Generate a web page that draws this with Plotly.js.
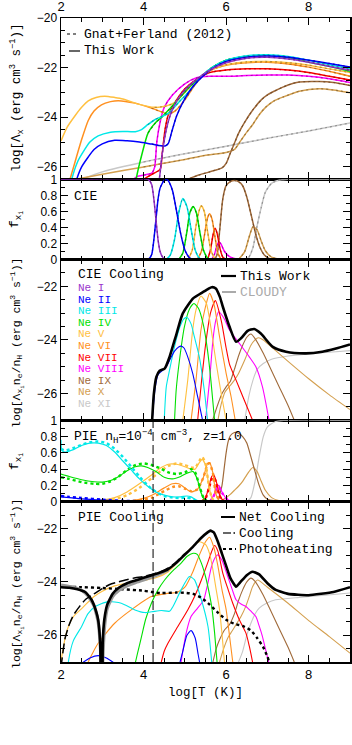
<!DOCTYPE html>
<html><head><meta charset="utf-8">
<script src="https://cdn.plot.ly/plotly-3.0.1.min.js"></script>
<style>html,body{margin:0;padding:0;background:#fff}#chart{width:352px;height:745px}</style>
</head><body><div id="chart"></div>
<script>
// ---------------- DATA ----------------
const ionNames = ['Ne I','Ne II','Ne III','Ne IV','Ne V','Ne VI','Ne VII','Ne VIII','Ne IX','Ne X','Ne XI'];
const ionKeys = ['I','II','III','IV','V','VI','VII','VIII','IX','X','XI'];

// Panel 1: log Lambda_x per ion (This Work; Gnat+Ferland overlaps for T>=1e4)
const T1_I = [2,4.3,4.38,4.45,4.55,4.65,4.8,5.0,5.3,5.6,6.0,6.5,7.0,7.5,8.0,8.5,9.0];
const L1_I = [-27,-27,-26.5,-25.5,-24.5,-23.9,-23.35,-22.9,-22.45,-22.1,-21.8,-21.62,-21.58,-21.65,-21.78,-21.95,-22.1];
const T1_II = [2.3,2.38,2.5,2.66,2.8,3.0,3.3,3.6,3.9,4.2,4.52,4.6,4.68,4.8,5.0,5.2,5.43,5.7,6.0,6.5,7.0,7.5,8.0,8.5,9.0];
const L1_II = [-27,-26.5,-26.0,-25.6,-25.3,-25.07,-24.93,-24.95,-25.0,-25.08,-25.16,-25.05,-24.6,-23.95,-23.25,-22.75,-22.35,-22.0,-21.75,-21.58,-21.53,-21.58,-21.7,-21.83,-21.98];
const T1_III = [2.2,2.26,2.4,2.5,2.7,2.9,3.2,3.5,3.8,3.95,4.1,4.27,4.6,4.85,5.08,5.43,5.7,6.0,6.5,7.0,7.5,8.0,8.5,9.0];
const L1_III = [-27,-26.5,-25.8,-25.5,-25.0,-24.75,-24.6,-24.57,-24.58,-24.5,-24.3,-24.1,-23.84,-23.4,-23.0,-22.3,-21.95,-21.7,-21.52,-21.48,-21.55,-21.7,-21.88,-22.05];
const T1_IV = [3.78,3.82,3.96,4.11,4.3,4.44,4.76,5.08,5.43,5.7,6.0,6.5,7.0,7.5,8.0,8.5,9.0];
const L1_IV = [-27,-26.5,-25.49,-24.63,-24.2,-24.0,-23.43,-22.83,-22.3,-21.95,-21.7,-21.55,-21.52,-21.6,-21.78,-21.95,-22.15];
const T1_V = [2.0,2.15,2.34,2.5,2.66,2.85,3.06,3.3,3.5,3.87,4.27,4.52,4.76,5.0,5.2,5.43,5.7,6.0,6.5,7.0,7.5,8.0,8.5,9.0];
const L1_V = [-24.95,-24.4,-23.94,-23.6,-23.34,-23.2,-23.15,-23.2,-23.26,-23.47,-23.6,-23.56,-23.4,-23.0,-22.65,-22.3,-22.05,-21.88,-21.77,-21.75,-21.8,-21.9,-22.05,-22.2];
const T1_VI = [2.2,2.34,2.5,2.66,2.8,2.98,3.2,3.39,3.79,4.19,4.6,4.76,5.0,5.2,5.43,5.7,6.0,6.5,7.0,7.5,8.0,8.5,9.0];
const L1_VI = [-26.6,-25.8,-24.9,-24.13,-23.75,-23.5,-23.37,-23.33,-23.43,-23.63,-23.86,-23.75,-23.3,-22.8,-22.32,-22.05,-21.9,-21.8,-21.78,-21.85,-21.98,-22.15,-22.35];
const T1_VII = [2.0,3.9,4.0,4.2,4.4,4.45,4.52,4.6,4.8,5.0,5.3,5.6,6.0,6.5,7.0,7.5,8.0,8.5,9.0];
const L1_VII = [-27,-26.7,-26.5,-26.3,-26.1,-25.5,-24.5,-23.9,-23.3,-22.85,-22.45,-22.2,-22.1,-22.05,-22.05,-22.1,-22.2,-22.35,-22.5];
const T1_VIII = [2.0,3.7,3.85,4.0,4.2,4.27,4.32,4.4,4.5,4.7,5.0,5.3,5.6,6.0,6.5,7.0,7.5,8.0,8.5,9.0];
const L1_VIII = [-27,-26.55,-26.38,-26.33,-26.25,-26.0,-25.0,-24.2,-23.6,-23.1,-22.65,-22.4,-22.35,-22.35,-22.32,-22.3,-22.3,-22.35,-22.45,-22.6];
const T1_IX = [5.0,5.3,5.6,5.9,6.0,6.1,6.2,6.3,6.45,6.64,6.85,7.0,7.2,7.5,7.77,8.25,8.6,9.0];
const L1_IX = [-26.55,-26.35,-26.2,-26.04,-25.86,-25.45,-25.05,-24.65,-24.2,-23.72,-23.3,-23.1,-22.92,-22.7,-22.58,-22.56,-22.6,-22.72];
const T1_X = [2.2,3.0,4.0,5.0,5.48,6.0,6.2,6.35,6.5,6.64,6.8,6.96,7.15,7.37,7.77,8.25,8.6,9.0];
const L1_X = [-26.55,-26.3,-26.0,-25.7,-25.54,-25.42,-25.3,-24.95,-24.6,-24.3,-23.9,-23.59,-23.35,-23.19,-22.95,-22.85,-22.9,-23.01];
const T1_XI = [2.5,3.0,4.0,5.0,6.0,7.0,8.0,9.0];
const L1_XI = [-26.5,-26.2,-25.8,-25.47,-25.17,-24.85,-24.55,-24.23];

// Panel 2: CIE ion fractions
const T2_I = [2,4.1,4.15,4.2,4.25,4.3,4.35,4.4,4.45,4.5,4.6];
const F2_I = [1,1,0.98,0.93,0.75,0.5,0.25,0.1,0.04,0.01,0];
const T2_II = [4.1,4.15,4.2,4.25,4.3,4.35,4.4,4.5,4.55,4.6,4.7,4.8,4.9,5.0,5.1,5.2];
const F2_II = [0,0.02,0.07,0.25,0.5,0.75,0.89,0.99,1.0,0.98,0.86,0.6,0.32,0.12,0.03,0];
const T2_III = [4.55,4.65,4.75,4.85,4.95,5.05,5.15,5.25,5.35,5.45];
const F2_III = [0,0.06,0.25,0.58,0.76,0.66,0.38,0.12,0.02,0];
const T2_IV = [4.85,4.95,5.05,5.12,5.2,5.28,5.36,5.45,5.55,5.62];
const F2_IV = [0,0.08,0.35,0.58,0.66,0.58,0.35,0.12,0.02,0];
const T2_V = [5.08,5.18,5.27,5.34,5.4,5.47,5.55,5.63,5.72,5.8];
const F2_V = [0,0.12,0.42,0.6,0.67,0.6,0.35,0.12,0.02,0];
const T2_VI = [5.3,5.4,5.48,5.55,5.6,5.66,5.73,5.8,5.88];
const F2_VI = [0,0.1,0.32,0.52,0.57,0.5,0.28,0.08,0];
const T2_VII = [5.55,5.62,5.68,5.73,5.78,5.85,5.92,6.0];
const F2_VII = [0,0.12,0.3,0.39,0.33,0.14,0.03,0];
const T2_VIII = [5.65,5.72,5.78,5.83,5.88,5.95,6.05,6.15,6.3];
const F2_VIII = [0,0.07,0.18,0.22,0.19,0.11,0.05,0.02,0];
const T2_IX = [5.72,5.78,5.85,5.92,6.0,6.1,6.2,6.3,6.4,6.5,6.6,6.72,6.82,6.92,7.04,7.2];
const F2_IX = [0,0.06,0.4,0.76,0.92,0.97,0.985,0.97,0.92,0.78,0.57,0.31,0.15,0.06,0.015,0];
const T2_X = [6.3,6.45,6.55,6.65,6.75,6.85,6.95,7.1,7.3,7.5];
const F2_X = [0,0.1,0.27,0.41,0.37,0.23,0.11,0.03,0.005,0];
const T2_XI = [6.45,6.55,6.65,6.75,6.85,6.95,7.1,7.3,7.5,9.0];
const F2_XI = [0,0.03,0.15,0.42,0.65,0.84,0.95,0.99,1,1];

// Panel 3: CIE cooling, log(Lambda_xi ne/nH)
const T3_tot = [4.2,4.25,4.31,4.39,4.51,4.63,4.8,4.95,5.2,5.4,5.56,5.65,5.75,5.85,5.92,6.08,6.24,6.36,6.52,6.68,6.84,7.13,7.45,7.93,8.33,8.66,9.0];
const C3_tot = [-27.2,-26.0,-25.38,-25.15,-25.07,-24.63,-23.76,-23.01,-22.45,-22.25,-22.1,-22.03,-22.08,-22.4,-22.76,-23.5,-24.07,-23.94,-23.66,-23.59,-23.76,-24.26,-24.44,-24.5,-24.44,-24.32,-24.17];
const T3_II = [4.21,4.28,4.35,4.45,4.55,4.65,4.75,4.85,4.91,4.98,5.07,5.19,5.31,5.43];
const C3_II = [-27,-25.8,-25.3,-25.15,-25.0,-24.7,-24.42,-24.26,-24.23,-24.3,-24.63,-25.25,-26.12,-27];
const T3_III = [4.5,4.55,4.63,4.75,4.87,4.97,5.05,5.15,5.23,5.35,5.47,5.55];
const C3_III = [-27,-25.75,-25.12,-24.25,-23.56,-23.22,-23.16,-23.4,-23.88,-24.63,-25.87,-27];
const T3_IV = [4.75,4.79,4.87,4.99,5.11,5.22,5.33,5.45,5.55,5.63,5.72];
const C3_IV = [-27,-25.87,-24.75,-23.5,-22.85,-22.64,-22.82,-23.45,-24.4,-25.5,-27];
const T3_V = [4.95,5.07,5.19,5.27,5.39,5.52,5.64,5.76,5.88,6.0];
const C3_V = [-27,-25.5,-23.63,-22.88,-22.36,-22.63,-23.63,-24.88,-26.0,-27];
const T3_VI = [5.15,5.27,5.39,5.5,5.6,5.71,5.84,6.0,6.12,6.22];
const C3_VI = [-27,-25.5,-23.63,-22.76,-22.26,-22.7,-23.88,-25.25,-26.12,-27];
const T3_VII = [5.31,5.4,5.5,5.62,5.74,5.88,6.0,6.08,6.24,6.44,6.64];
const C3_VII = [-27,-25.6,-24.2,-23.0,-22.53,-23.27,-24.3,-24.9,-25.5,-26.25,-27];
const T3_VIII = [5.5,5.6,5.68,5.75,5.82,5.95,6.08,6.32,6.56,6.72,6.88,7.04];
const C3_VIII = [-27,-25.5,-24.0,-23.26,-22.95,-23.2,-23.63,-24.13,-24.63,-25.0,-25.75,-27];
const T3_IX = [5.67,5.8,5.9,6.0,6.1,6.2,6.3,6.4,6.5,6.6,6.7,6.9,7.1,7.3,7.5,7.65];
const C3_IX = [-27,-26.4,-26.0,-25.75,-25.55,-25.1,-24.6,-24.2,-23.9,-23.78,-23.95,-24.5,-25.15,-25.8,-26.45,-27];
const T3_X = [5.8,5.88,5.97,6.1,6.2,6.3,6.45,6.6,6.7,6.78,6.9,7.2,7.5,8.0,8.5,9.0];
const C3_X = [-27,-26.4,-25.95,-25.7,-25.5,-25.25,-24.75,-24.2,-24.0,-23.92,-24.0,-24.4,-24.8,-25.45,-26.05,-26.6];
const T3_XI = [6.45,6.55,6.65,6.75,6.9,7.1,7.5,8.0,8.5,9.0];
const C3_XI = [-27,-26.1,-25.5,-25.1,-24.88,-24.72,-24.6,-24.52,-24.46,-24.4];

// Panel 4: PIE ion fractions (solid = this work, dotted = comparison)
const T4_II = [2.0,2.2,2.5,3.0,3.5,4.0,4.5];
const F4_II = [0.06,0.05,0.035,0.02,0.01,0.004,0];
const F4d_II = [0.07,0.06,0.045,0.025,0.012,0.005,0];
const T4_III = [2.0,2.02,2.1,2.3,2.5,2.7,2.9,3.1,3.3,3.5,3.7,3.9,4.1,4.3,4.5,4.7,4.9,5.05,5.15,5.25,5.35,5.45];
const F4_III = [0.76,0.63,0.61,0.64,0.69,0.72,0.72,0.69,0.61,0.5,0.39,0.28,0.19,0.12,0.08,0.06,0.06,0.07,0.06,0.03,0.005,0];
const T4d_III = [2.0,2.1,2.3,2.5,2.7,2.9,3.1,3.3,3.5,3.7,3.9,4.1,4.3,4.5,4.7,4.9,5.05,5.15,5.25,5.4];
const F4d_III = [0.65,0.63,0.66,0.7,0.73,0.74,0.72,0.65,0.55,0.43,0.31,0.2,0.12,0.07,0.05,0.045,0.05,0.04,0.02,0];
const T4_IV = [2.0,2.2,2.5,2.8,3.0,3.2,3.4,3.6,3.8,3.95,4.1,4.3,4.5,4.7,4.9,5.05,5.2,5.3,5.4,5.5,5.6];
const F4_IV = [0.34,0.31,0.27,0.245,0.24,0.26,0.31,0.38,0.43,0.44,0.42,0.37,0.3,0.28,0.31,0.35,0.37,0.28,0.1,0.01,0];
const T4d_IV = [2.0,2.2,2.5,2.8,3.0,3.2,3.4,3.6,3.8,4.0,4.2,4.4,4.6,4.8,5.0,5.15,5.25,5.35,5.45,5.55];
const F4d_IV = [0.3,0.28,0.24,0.22,0.22,0.25,0.31,0.39,0.45,0.47,0.45,0.41,0.36,0.34,0.36,0.4,0.36,0.2,0.05,0];
const T4_V = [2.5,2.8,3.0,3.3,3.6,3.9,4.2,4.4,4.6,4.8,5.0,5.15,5.25,5.35,5.42,5.5,5.58,5.65,5.72];
const F4_V = [0,0.01,0.02,0.05,0.12,0.22,0.33,0.41,0.46,0.46,0.43,0.4,0.4,0.48,0.52,0.45,0.2,0.05,0];
const T4d_V = [2.8,3.0,3.3,3.6,3.9,4.2,4.4,4.6,4.8,5.0,5.15,5.25,5.35,5.42,5.5,5.58,5.65,5.72];
const F4d_V = [0,0.01,0.03,0.08,0.17,0.29,0.37,0.44,0.47,0.45,0.42,0.42,0.5,0.55,0.47,0.2,0.05,0];
const T4_VI = [3.5,3.8,4.0,4.2,4.5,4.7,4.85,5.0,5.15,5.3,5.45,5.55,5.6,5.68,5.75,5.82,5.9];
const F4_VI = [0,0.02,0.04,0.08,0.17,0.22,0.22,0.17,0.12,0.15,0.3,0.47,0.48,0.35,0.1,0.02,0];
const T4d_VI = [3.6,3.9,4.2,4.5,4.7,4.85,5.0,5.15,5.3,5.45,5.55,5.6,5.68,5.75,5.85];
const F4d_VI = [0,0.02,0.05,0.13,0.18,0.19,0.16,0.13,0.15,0.3,0.46,0.47,0.35,0.1,0];
const T4_VII = [5.4,5.5,5.58,5.65,5.7,5.76,5.83,5.9,6.0];
const F4_VII = [0,0.05,0.18,0.31,0.33,0.25,0.1,0.03,0];
const F4d_VII = [0,0.04,0.16,0.28,0.3,0.23,0.09,0.02,0];
const T4_VIII = [5.6,5.7,5.78,5.82,5.9,6.0,6.1,6.2];
const F4_VIII = [0,0.08,0.19,0.2,0.12,0.04,0.01,0];
const F4d_VIII = [0,0.07,0.17,0.18,0.11,0.04,0.01,0];
const T4_IX = [5.8,5.9,5.95,6.0,6.05,6.1,6.2,6.3,6.4,6.5,6.6,6.7,6.8,6.9,7.0,7.2,7.4];
const F4_IX = [0,0.2,0.4,0.6,0.74,0.81,0.85,0.84,0.8,0.72,0.55,0.37,0.2,0.08,0.03,0.01,0];
const T4_X = [5.8,5.9,6.0,6.1,6.2,6.3,6.4,6.5,6.6,6.65,6.75,6.85,6.95,7.1,7.3,7.5];
const F4_X = [0,0.02,0.05,0.09,0.14,0.19,0.25,0.33,0.4,0.42,0.37,0.25,0.14,0.05,0.01,0];
const T4_XI = [6.5,6.6,6.7,6.8,6.9,7.0,7.2,7.4,9.0];
const F4_XI = [0,0.05,0.25,0.55,0.8,0.92,0.985,1,1];

// Panel 5: PIE cooling
const T5_net = [2.0,2.2,2.4,2.6,2.74,2.85,2.9,2.95,2.975,2.995,3.01,3.05,3.12,3.25,3.4,3.6,3.8,4.0,4.2,4.4,4.6,4.8,5.0,5.2,5.4,5.55,5.62,5.7,5.8,5.9,6.0,6.1,6.24,6.35,6.5,6.64,6.8,7.0,7.2,7.5,8.0,8.6,9.0];
const C5_net = [-24.2,-24.22,-24.28,-24.4,-24.67,-25.1,-25.42,-26.3,-28,-28,-26.3,-25.4,-24.85,-24.45,-24.22,-24.05,-23.95,-23.85,-23.75,-23.65,-23.52,-23.28,-22.98,-22.68,-22.35,-22.15,-22.08,-22.15,-22.5,-22.95,-23.4,-23.85,-24.18,-24.0,-23.75,-23.62,-23.72,-24.05,-24.3,-24.45,-24.5,-24.38,-24.2];
const T5_cloudy = [2.0,2.3,2.5,2.65,2.8,2.9,2.96,2.99,3.02,3.06,3.12,3.25,3.4,3.6,3.8,4.0,4.2,4.4,4.6];
const C5_cloudy = [-24.12,-24.2,-24.32,-24.52,-24.9,-25.5,-26.6,-28,-26.6,-25.6,-25.0,-24.55,-24.32,-24.15,-24.03,-23.93,-23.82,-23.7,-23.55];
const T5_cool = [2.0,2.05,2.1,2.2,2.3,2.46,2.6,2.78,3.0,3.18,3.4,3.59,3.8,4.0,4.2,4.4,4.6,4.8,5.0];
const C5_cool = [-27.2,-26.6,-26.1,-25.6,-25.25,-24.9,-24.65,-24.47,-24.25,-24.1,-24.0,-23.92,-23.85,-23.8,-23.72,-23.63,-23.48,-23.24,-22.94];
const T5_heat = [2.0,2.5,3.0,3.5,4.0,4.2,4.4,4.8,5.0,5.2,5.4,5.6,5.8,6.0,6.2,6.4,6.6,6.75,6.9,7.0,7.08];
const C5_heat = [-24.17,-24.2,-24.23,-24.28,-24.33,-24.38,-24.42,-24.4,-24.41,-24.45,-24.6,-24.85,-25.15,-25.42,-25.57,-25.65,-25.82,-26.1,-26.45,-26.8,-27.2];
const T5_II = [2.5,2.7,2.9,3.1,3.3,null,4.85,4.95,5.05,5.15,5.25,5.32,5.38];
const C5_II = [-27.05,-26.85,-26.76,-26.85,-27.05,null,-27.2,-26.6,-26.0,-25.82,-26.1,-26.7,-27.2];
const T5_III = [2.15,2.18,2.3,2.5,2.65,2.82,3.14,3.46,3.79,4.03,4.2,4.43,4.63,4.71,4.91,5.11,5.23,5.4,5.56,5.65];
const C5_III = [-27.5,-26.98,-26.2,-25.67,-25.2,-24.93,-24.74,-24.8,-25.05,-25.15,-25.12,-25.07,-25.1,-24.93,-24.3,-23.8,-23.92,-24.67,-25.67,-27];
const T5_IV = [3.76,3.85,3.95,4.05,4.19,4.35,4.51,4.7,4.91,5.05,5.2,5.3,5.4,5.5,5.6,5.66,5.72,5.78];
const C5_IV = [-27.3,-26.7,-26.05,-25.4,-24.8,-24.3,-23.93,-23.6,-23.3,-23.05,-22.93,-22.97,-23.3,-23.8,-24.5,-25.04,-25.9,-27];
const T5_V = [2.0,2.05,2.15,2.3,2.5,2.8,3.0,3.3,3.6,4.0,4.3,4.6,4.9,5.1,5.35,5.5,5.6,5.68,5.76,5.84,5.96];
const C5_V = [-27,-26.5,-25.8,-25.3,-25.0,-24.55,-24.35,-24.15,-24.05,-23.95,-23.85,-23.62,-23.15,-22.8,-22.5,-22.6,-22.95,-23.55,-24.3,-25.04,-27];
const T5_VI = [2.62,2.66,2.9,3.3,3.7,4.19,4.59,4.8,5.0,5.2,5.35,5.5,5.6,5.7,5.8,5.9,6.0,6.08,6.16];
const C5_VI = [-27.3,-27,-26.3,-25.55,-25.05,-24.55,-24.43,-24.4,-24.2,-23.6,-23.0,-22.5,-22.33,-22.7,-23.4,-24.3,-25.04,-26.0,-27];
const T5_VII = [4.43,4.5,4.59,4.83,5.07,5.25,5.4,5.55,5.64,5.72,5.8,5.92,6.05,6.16,6.32,6.48,6.56,6.64];
const C5_VII = [-27,-26.6,-26.3,-25.67,-25.05,-24.5,-23.93,-23.3,-22.9,-22.64,-22.85,-23.68,-24.3,-24.8,-25.42,-25.92,-26.4,-27];
const T5_VIII = [4.9,4.95,5.05,5.15,5.3,5.45,5.55,5.65,5.75,5.8,5.9,6.04,6.15,6.24,6.36,6.48,6.6,6.72,6.8,6.88,6.95,7.03];
const C5_VIII = [-27.1,-26.6,-25.8,-25.3,-25.0,-24.7,-24.1,-23.4,-23.05,-22.99,-23.2,-23.8,-24.3,-24.67,-24.83,-24.92,-25.1,-25.3,-25.65,-26.05,-26.5,-27];
const T5_IX = [5.68,5.76,5.84,5.96,6.08,6.2,6.3,6.4,6.5,6.6,6.7,6.9,7.1,7.3,7.5,7.65];
const C5_IX = [-27,-26.5,-26.17,-25.8,-25.6,-25.2,-24.7,-24.3,-24.0,-23.86,-23.98,-24.5,-25.15,-25.8,-26.45,-27];
const T5_X = [5.84,5.94,6.04,6.14,6.24,6.36,6.48,6.56,6.64,6.76,7.0,7.5,8.0,8.5,9.0];
const C5_X = [-27,-26.5,-26.1,-25.85,-25.6,-25.3,-24.9,-24.55,-24.18,-23.93,-24.2,-24.8,-25.45,-26.05,-26.67];
const T5_XI = [6.3,6.4,6.5,6.6,6.7,6.8,7.0,7.2,7.77,8.4,9.0];
const C5_XI = [-27,-26.6,-26.0,-25.55,-25.2,-24.98,-24.78,-24.67,-24.58,-24.5,-24.42];

const VLINE_T = 4.23;
const GF_TMIN = 4.0; // Gnat+Ferland tables start at 1e4 K

// ---------------- STYLE ----------------
const ionColors = ['#9932CC','#0000FF','#00E8E8','#00E000','#FFC040','#FF9020','#FF0000','#FF00FF','#A06A3A','#D4A050','#C8C8C8'];
const MONO = 'Liberation Mono, DejaVu Sans Mono, monospace';
const SANS = 'Liberation Sans, Arial, sans-serif';
function darken(hex,k){const n=parseInt(hex.slice(1),16);const r=Math.round((n>>16)*k),g=Math.round(((n>>8)&255)*k),b=Math.round((n&255)*k);return `rgb(${r},${g},${b})`;}
function ln(x,y,xa,ya,color,width,dash,smooth){
  return {type:'scatter',mode:'lines',x:x,y:y,xaxis:xa,yaxis:ya,hoverinfo:'skip',showlegend:false,connectgaps:false,
    line:{color:color,width:width,dash:dash||'solid',shape:'spline',smoothing:smooth===undefined?0.6:smooth}};
}
function filt(x,y,tmin){const xx=[],yy=[];for(let i=0;i<x.length;i++){if(x[i]!==null&&x[i]>=tmin){xx.push(x[i]);yy.push(y[i]);}}return [xx,yy];}

const P1 = {T:[T1_I,T1_II,T1_III,T1_IV,T1_V,T1_VI,T1_VII,T1_VIII,T1_IX,T1_X,T1_XI],
            V:[L1_I,L1_II,L1_III,L1_IV,L1_V,L1_VI,L1_VII,L1_VIII,L1_IX,L1_X,L1_XI]};
const P2 = {T:[T2_I,T2_II,T2_III,T2_IV,T2_V,T2_VI,T2_VII,T2_VIII,T2_IX,T2_X,T2_XI],
            V:[F2_I,F2_II,F2_III,F2_IV,F2_V,F2_VI,F2_VII,F2_VIII,F2_IX,F2_X,F2_XI]};
const P3 = {T:[null,T3_II,T3_III,T3_IV,T3_V,T3_VI,T3_VII,T3_VIII,T3_IX,T3_X,T3_XI],
            V:[null,C3_II,C3_III,C3_IV,C3_V,C3_VI,C3_VII,C3_VIII,C3_IX,C3_X,C3_XI]};
const P4 = {T:[null,T4_II,T4_III,T4_IV,T4_V,T4_VI,T4_VII,T4_VIII,T4_IX,T4_X,T4_XI],
            V:[null,F4_II,F4_III,F4_IV,F4_V,F4_VI,F4_VII,F4_VIII,F4_IX,F4_X,F4_XI],
            Td:[null,T4_II,T4d_III,T4d_IV,T4d_V,T4d_VI,T4_VII,T4_VIII,null,null,null],
            Vd:[null,F4d_II,F4d_III,F4d_IV,F4d_V,F4d_VI,F4d_VII,F4d_VIII,null,null,null]};
const P5 = {T:[null,T5_II,T5_III,T5_IV,T5_V,T5_VI,T5_VII,T5_VIII,T5_IX,T5_X,T5_XI],
            V:[null,C5_II,C5_III,C5_IV,C5_V,C5_VI,C5_VII,C5_VIII,C5_IX,C5_X,C5_XI]};

const traces = [];
for (let i=10;i>=0;i--){
  const c = ionColors[i];
  traces.push(ln(P1.T[i],P1.V[i],'x','y',c,1.5));
  const g = filt(P1.T[i],P1.V[i],GF_TMIN);
  traces.push(ln(g[0],g[1],'x','y',darken(c,0.72),1.1,'2px,3px'));
}
for (let i=10;i>=0;i--){
  const c = ionColors[i];
  traces.push(ln(P2.T[i],P2.V[i],'x2','y2',c,1.5));
  traces.push(ln(P2.T[i],P2.V[i],'x2','y2',darken(c,0.72),1.1,'2px,3px'));
}
for (let i=10;i>=1;i--){ traces.push(ln(P3.T[i],P3.V[i],'x3','y3',ionColors[i],1.1)); }
traces.push(ln(T3_tot,C3_tot,'x3','y3','#000',2.6));
for (let i=10;i>=1;i--){
  traces.push(ln(P4.T[i],P4.V[i],'x4','y4',ionColors[i],1.2));
  if (P4.Td[i]) traces.push(ln(P4.Td[i],P4.Vd[i],'x4','y4',ionColors[i],2.4,'dot'));
}
for (let i=10;i>=1;i--){ traces.push(ln(P5.T[i],P5.V[i],'x5','y5',ionColors[i],1.1)); }
traces.push(ln(T5_heat,C5_heat,'x5','y5','#000',2.4,'dot'));
traces.push(ln(T5_cloudy,C5_cloudy,'x5','y5','#999',3.2,'solid',0.4));
traces.push(ln(T5_cool,C5_cool,'x5','y5','#000',1.5,'10px,4px'));
traces.push(ln(T5_net,C5_net,'x5','y5','#000',2.6,'solid',0.4));

// ---------------- LAYOUT ----------------
const ML=61, MR=2, MT=18, MB=83, W=352, H=745;
const PW=W-ML-MR, PH=H-MT-MB;
const xp = px => (px-ML)/PW;
const yp = py => (H-MB-py)/PH;
const dom = [[yp(179.3),1],[yp(259.6),yp(179.3)],[yp(420.3),yp(259.6)],[yp(501.7),yp(420.3)],[0,yp(501.7)]];

const tickFont = {family:SANS,size:12,color:'#000'};
function xax(n){
  return {domain:[0,1],range:[2,9],anchor:'y'+(n===1?'':n),showline:true,linecolor:'#000',linewidth:1.5,mirror:'ticks',
    ticks:'inside',ticklen:7,tickwidth:1,tickcolor:'#000',tickmode:'linear',tick0:2,dtick:2,
    minor:{ticks:'inside',ticklen:4,tickcolor:'#000',tickmode:'linear',tick0:2,dtick:0.5},
    showgrid:false,zeroline:false,showticklabels:(n===1||n===5),side:(n===1?'top':'bottom'),tickfont:{family:SANS,size:13,color:'#000'},fixedrange:true};
}
function yax(n,range,tick0,dtick,mdt){
  return {domain:dom[n-1],range:range,anchor:'x'+(n===1?'':n),showline:true,linecolor:'#000',linewidth:1.5,mirror:'ticks',
    ticks:'inside',ticklen:7,tickwidth:1,tickcolor:'#000',tickmode:'linear',tick0:tick0,dtick:dtick,
    minor:{ticks:'inside',ticklen:4,tickcolor:'#000',tickmode:'linear',tick0:tick0,dtick:mdt},
    showgrid:false,zeroline:false,tickfont:tickFont,fixedrange:true};
}

const ann = [];
function txt(s,px,py,opts){ann.push(Object.assign({text:s,x:xp(px),y:yp(py),xref:'paper',yref:'paper',showarrow:false,xanchor:'left',yanchor:'middle',
  font:{family:MONO,size:13,color:'#000'}},opts||{}));}
// y titles
txt('log[Λ<sub>x</sub> (erg cm<sup>3</sup> s<sup>−1</sup>)]',17,98,{textangle:-90,xanchor:'center',font:{family:MONO,size:12.5,color:'#000'}});
txt('f<sub>x<sub>i</sub></sub>',16,220,{textangle:-90,xanchor:'center',font:{family:MONO,size:13,color:'#000'}});
txt('log[Λ<sub>x<sub>i</sub></sub>n<sub>e</sub>/n<sub>H</sub> (erg cm<sup>3</sup> s<sup>−1</sup>)]',17,343,{textangle:-90,xanchor:'center',font:{family:MONO,size:11.5,color:'#000'}});
txt('f<sub>x<sub>i</sub></sub>',16,462,{textangle:-90,xanchor:'center',font:{family:MONO,size:13,color:'#000'}});
txt('log[Λ<sub>x<sub>i</sub></sub>n<sub>e</sub>/n<sub>H</sub> (erg cm<sup>3</sup> s<sup>−1</sup>)]',17,584,{textangle:-90,xanchor:'center',font:{family:MONO,size:11.5,color:'#000'}});
txt('log[T (K)]',205.5,693,{xanchor:'center',font:{family:MONO,size:12.5,color:'#000'}});
// panel labels
txt('Gnat+Ferland (2012)',82,34);
txt('This Work',82,51);
txt('CIE',72,196);
txt('CIE Cooling',76,275);
txt('This Work',238,276);
txt('CLOUDY',238,292,{font:{family:MONO,size:13,color:'#aaa'}});
for (let i=0;i<11;i++){ txt(ionNames[i],76,288+i*11.6,{font:{family:MONO,size:11,color:ionColors[i]}}); }
txt('PIE n<sub>H</sub>=10<sup>−4</sup> cm<sup>−3</sup>, z=1.0',72,436);
txt('PIE Cooling',76,517);
txt('Net Cooling',237,517);
txt('Cooling',237,533);
txt('Photoheating',237,549);

const shapes = [
  {type:'line',xref:'paper',yref:'paper',x0:xp(67),x1:xp(79),y0:yp(34),y1:yp(34),line:{color:'#000',width:1.2,dash:'dot'}},
  {type:'line',xref:'paper',yref:'paper',x0:xp(69),x1:xp(80),y0:yp(51),y1:yp(51),line:{color:'#000',width:1.2}},
  {type:'line',xref:'paper',yref:'paper',x0:xp(221),x1:xp(236),y0:yp(276),y1:yp(276),line:{color:'#000',width:2.2}},
  {type:'line',xref:'paper',yref:'paper',x0:xp(222),x1:xp(236),y0:yp(292),y1:yp(292),line:{color:'#aaa',width:2}},
  {type:'line',xref:'paper',yref:'paper',x0:xp(221),x1:xp(235),y0:yp(517),y1:yp(517),line:{color:'#000',width:2}},
  {type:'line',xref:'paper',yref:'paper',x0:xp(223),x1:xp(231),y0:yp(533),y1:yp(533),line:{color:'#000',width:1.2}},
  {type:'line',xref:'paper',yref:'paper',x0:xp(233.5),x1:xp(235),y0:yp(533),y1:yp(533),line:{color:'#000',width:1.5}},
  {type:'line',xref:'paper',yref:'paper',x0:xp(223),x1:xp(236),y0:yp(549),y1:yp(549),line:{color:'#000',width:2,dash:'dot'}},
  {type:'line',xref:'x',yref:'paper',x0:VLINE_T,x1:VLINE_T,y0:0,y1:dom[3][1],line:{color:'#000',width:1,dash:'9px,4px'}}
];

const layout = {
  width:W,height:H,margin:{l:ML,r:MR,t:MT,b:MB,pad:0},paper_bgcolor:'#fff',plot_bgcolor:'#fff',showlegend:false,
  xaxis:xax(1),xaxis2:xax(2),xaxis3:xax(3),xaxis4:xax(4),xaxis5:xax(5),
  yaxis:yax(1,[-26.5,-20],-20,2,0.5),
  yaxis2:yax(2,[0,1],0,0.2,0.1),
  yaxis3:yax(3,[-27,-21],-22,2,0.5),
  yaxis4:yax(4,[0,1],0,0.2,0.1),
  yaxis5:yax(5,[-27,-21],-22,2,0.5),
  annotations:ann,shapes:shapes
};
Plotly.newPlot('chart',traces,layout,{staticPlot:true,displayModeBar:false});
</script></body></html>
